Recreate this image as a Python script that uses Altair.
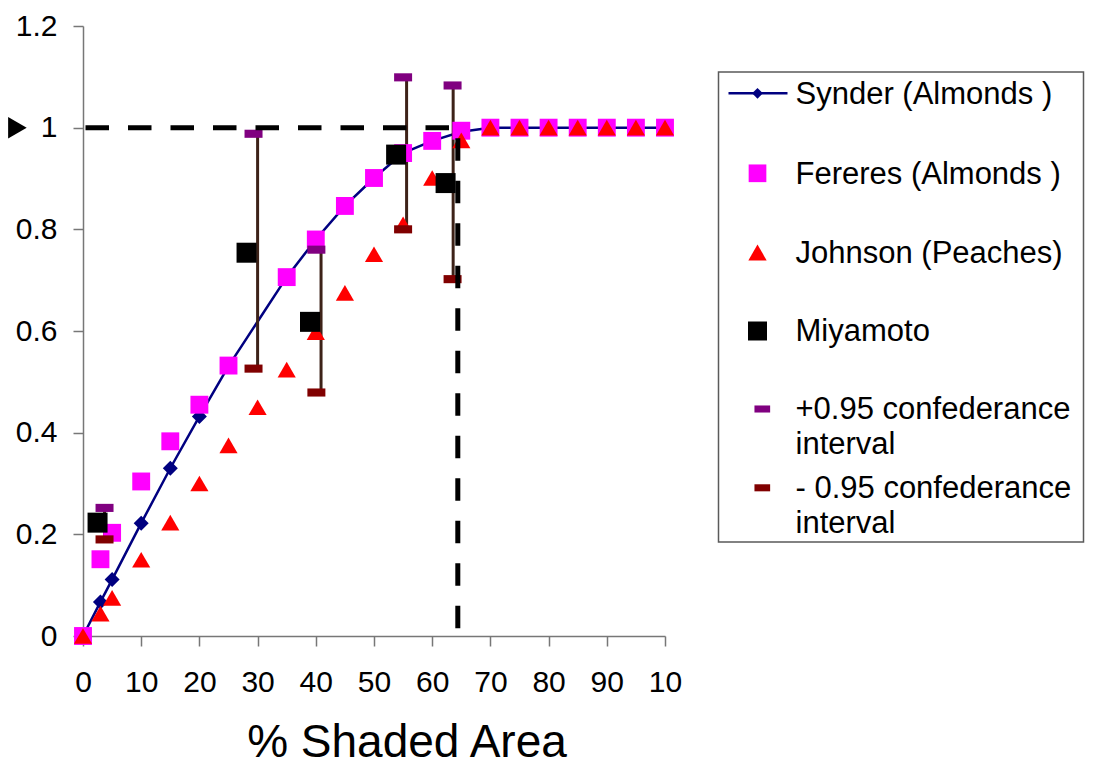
import altair as alt
import pandas as pd

# ---------------- data ----------------
synder_x = [0, 3, 5, 10, 15, 20, 25, 35, 40, 45, 50, 55, 60, 65, 70, 75, 80, 85, 90, 95, 100]
synder_y = [0, 0.067, 0.111, 0.222, 0.33, 0.432, 0.531, 0.706, 0.78, 0.846, 0.901, 0.95, 0.974, 0.992,
            1, 1, 1, 1, 1, 1, 1]

fereres_x = [0, 3, 5, 10, 15, 20, 25, 35, 40, 45, 50, 55, 60, 65, 70, 75, 80, 85, 90, 95, 100]
fereres_y = [0, 0.151, 0.203, 0.304, 0.383, 0.455, 0.532, 0.706, 0.78, 0.846, 0.901, 0.95, 0.974, 0.994,
             1, 1, 1, 1, 1, 1, 1]

johnson_x = [0, 3, 5, 10, 15, 20, 25, 30, 35, 40, 45, 50, 55, 60, 65, 70, 75, 80, 85, 90, 95, 100]
johnson_y = [0, 0.044, 0.075, 0.15, 0.223, 0.30, 0.375, 0.45, 0.524, 0.598, 0.675, 0.751, 0.81, 0.901,
             0.975, 1, 1, 1, 1, 1, 1, 1]

miyamoto_x = [2.5, 28.1, 39.0, 53.8, 62.3]
miyamoto_y = [0.223, 0.754, 0.618, 0.947, 0.891]

ci_x = [3.7, 29.3, 40.1, 55.0, 63.5]
ci_upper = [0.252, 0.988, 0.76, 1.099, 1.083]
ci_lower = [0.19, 0.526, 0.479, 0.80, 0.702]
errbar_x = [3.7, 30.0, 40.9, 55.6, 63.6]

# dashed reference lines and arrow annotation
ref_level = 1.0
ref_h_x = [0.43, 62.95]
ref_v_x = 64.4
ref_v_y = [0.979, 0.0]
arrow_x = -11.27
arrow_y = 1.0

x_ticks = [0, 10, 20, 30, 40, 50, 60, 70, 80, 90, 100]
x_tick_labels = ["0", "10", "20", "30", "40", "50", "60", "70", "80", "90", "10"]
y_ticks = [0, 0.2, 0.4, 0.6, 0.8, 1.0, 1.2]
y_tick_labels = ["0", "0.2", "0.4", "0.6", "0.8", "1", "1.2"]
x_title = "% Shaded Area"

legend_labels = [["Synder (Almonds )"], ["Fereres (Almonds )"], ["Johnson (Peaches)"], ["Miyamoto"],
                 ["+0.95 confederance", "interval"], ["- 0.95 confederance", "interval"]]

# ---------------- styling ----------------
FONT = "Liberation Sans"
NAVY = "#000080"
MAGENTA = "#FF00FF"
RED = "#FF0000"
BLACK = "#000000"
PURPLE = "#800080"
DARKRED = "#800000"
BROWN = "#3d2218"
DASH_SHAPE = "M-1,-0.45H1V0.45H-1Z"

PW, PH = 582, 610

x_label_expr = "[" + ",".join("'%s'" % s for s in x_tick_labels) + "][round(datum.value/10)]"
y_label_expr = "[" + ",".join("'%s'" % s for s in y_tick_labels) + "][round(datum.value*5)]"

xscale = alt.Scale(domain=[0, 100], nice=False, zero=False)
yscale = alt.Scale(domain=[0, 1.2], nice=False, zero=False)
xaxis = alt.Axis(values=x_ticks, labelExpr=x_label_expr, grid=False, domainColor="#777777",
                 domainWidth=1.5, tickColor="#777777", tickWidth=1.5, tickSize=10,
                 labelFont=FONT, labelFontSize=30, labelColor="black", labelPadding=21,
                 labelFlush=False, labelOverlap=False,
                 title=x_title, titleFont=FONT, titleFontSize=46, titleFontWeight="normal",
                 titleColor="black", titleX=323.5, titleY=120, titleBaseline="alphabetic",
                 titleAlign="center")
yaxis = alt.Axis(values=y_ticks, labelExpr=y_label_expr, grid=False, domainColor="#777777",
                 domainWidth=1.5, tickColor="#777777", tickWidth=1.5, tickSize=10,
                 labelFont=FONT, labelFontSize=30, labelColor="black", labelPadding=16,
                 labelFlush=False, labelOverlap=False, title=None)


def X(field="x"):
    return alt.X(f"{field}:Q", scale=xscale, axis=xaxis)


def Y(field="y"):
    return alt.Y(f"{field}:Q", scale=yscale, axis=yaxis)


synder = pd.DataFrame({"x": synder_x, "y": synder_y})
fereres = pd.DataFrame({"x": fereres_x, "y": fereres_y})
johnson = pd.DataFrame({"x": johnson_x, "y": johnson_y})
miyamoto = pd.DataFrame({"x": miyamoto_x, "y": miyamoto_y})
ci = pd.DataFrame({"x": ci_x, "hi": ci_upper, "lo": ci_lower})
err = pd.DataFrame({"x": errbar_x, "y": ci_upper, "y2": ci_lower})
ref_h = pd.DataFrame({"x": [ref_h_x[0]], "x2": [ref_h_x[1]], "y": [ref_level]})
ref_v = pd.DataFrame({"x": [ref_v_x], "y": [ref_v_y[0]], "y2": [ref_v_y[1]]})
arrow = pd.DataFrame({"x": [arrow_x], "y": [arrow_y]})

line_l = alt.Chart(synder).mark_line(color=NAVY, strokeWidth=2.5).encode(x=X(), y=Y())
diam_l = alt.Chart(synder).mark_point(shape="diamond", filled=True, size=225, color=NAVY,
                                      opacity=1).encode(x=X(), y=Y())
err_l = alt.Chart(err).mark_rule(color=BROWN, strokeWidth=3).encode(x=X(), y=Y(), y2="y2:Q")
fer_l = alt.Chart(fereres).mark_point(shape="square", filled=True, size=320, color=MAGENTA,
                                      opacity=1).encode(x=X(), y=Y())
joh_l = alt.Chart(johnson).mark_point(shape="triangle-up", filled=True, size=330, color=RED,
                                      opacity=1).encode(x=X(), y=Y())
miy_l = alt.Chart(miyamoto).mark_point(shape="square", filled=True, size=400, color=BLACK,
                                       opacity=1).encode(x=X(), y=Y())
hi_l = alt.Chart(ci).mark_point(shape=DASH_SHAPE, filled=True, size=324, color=PURPLE,
                                opacity=1).encode(x=X(), y=Y("hi"))
lo_l = alt.Chart(ci).mark_point(shape=DASH_SHAPE, filled=True, size=324, color=DARKRED,
                                opacity=1).encode(x=X(), y=Y("lo"))
refh_l = alt.Chart(ref_h).mark_rule(color=BLACK, strokeWidth=5, strokeDash=[23.5, 19]).encode(
    x=X(), x2="x2:Q", y=Y())
refv_l = alt.Chart(ref_v).mark_rule(color=BLACK, strokeWidth=5, strokeDash=[22.5, 20]).encode(
    x=X(), y=Y(), y2="y2:Q")
arrow_l = alt.Chart(arrow).mark_point(shape="triangle-right", filled=True, size=460, color=BLACK,
                                      opacity=1).encode(x=X(), y=Y())

main = alt.layer(line_l, diam_l, err_l, fer_l, joh_l, miy_l, hi_l, lo_l, refh_l, refv_l,
                 arrow_l).properties(width=PW, height=PH)

# ---------------- legend panel ----------------
LW, LH = 366, PH
lx = alt.Scale(domain=[0, LW], nice=False, zero=False)
ly = alt.Scale(domain=[0, LH], nice=False, zero=False, reverse=True)

box_left, box_right, box_top, box_bottom = 0, 365, 46, 516
sym_x = 39
dash_x = 43.8
text_x = 77
row_centers = [67.3, 147.3, 226.5, 305, 383, 461.8]
first_baselines = [78, 158, 237, 315, 393, 472]
line_gap = 35

text_rows = []
for i, lines in enumerate(legend_labels):
    for j, t in enumerate(lines):
        text_rows.append({"x": text_x, "y": first_baselines[i] + j * line_gap, "t": t})
texts = pd.DataFrame(text_rows)

box = pd.DataFrame({"x": [box_left], "x2": [box_right], "y": [box_top], "y2": [box_bottom]})
box_l = alt.Chart(box).mark_rect(fill="white", stroke="#5a5a5a", strokeWidth=1.5).encode(
    x=alt.X("x:Q", scale=lx, axis=None), x2="x2:Q",
    y=alt.Y("y:Q", scale=ly, axis=None), y2="y2:Q")


def LX():
    return alt.X("x:Q", scale=lx, axis=None)


def LY():
    return alt.Y("y:Q", scale=ly, axis=None)


leg_line = pd.DataFrame({"x": [10, 69], "y": [row_centers[0], row_centers[0]]})
leg_line_l = alt.Chart(leg_line).mark_line(color=NAVY, strokeWidth=2.5).encode(x=LX(), y=LY())


def leg_sym(i, x, shape, color, size):
    d = pd.DataFrame({"x": [x], "y": [row_centers[i]]})
    return alt.Chart(d).mark_point(shape=shape, filled=True, size=size, color=color,
                                   opacity=1).encode(x=LX(), y=LY())


sym_layers = [
    leg_sym(0, sym_x, "diamond", NAVY, 115),
    leg_sym(1, sym_x, "square", MAGENTA, 313),
    leg_sym(2, sym_x, "triangle-up", RED, 335),
    leg_sym(3, sym_x, "square", BLACK, 361),
    leg_sym(4, dash_x, DASH_SHAPE, PURPLE, 246),
    leg_sym(5, dash_x, DASH_SHAPE, DARKRED, 246),
]
text_l = alt.Chart(texts).mark_text(align="left", baseline="alphabetic", font=FONT, fontSize=31,
                                    color="black").encode(x=LX(), y=LY(), text="t:N")

legend = alt.layer(box_l, leg_line_l, *sym_layers, text_l).properties(width=LW, height=LH)

chart = alt.hconcat(main, legend, spacing=53.5, bounds="flush").configure_view(
    stroke=None).properties(padding={"left": 0, "top": 3, "right": 0, "bottom": 0})

chart.save("out.html", embed_options={"renderer": "svg", "actions": False})
